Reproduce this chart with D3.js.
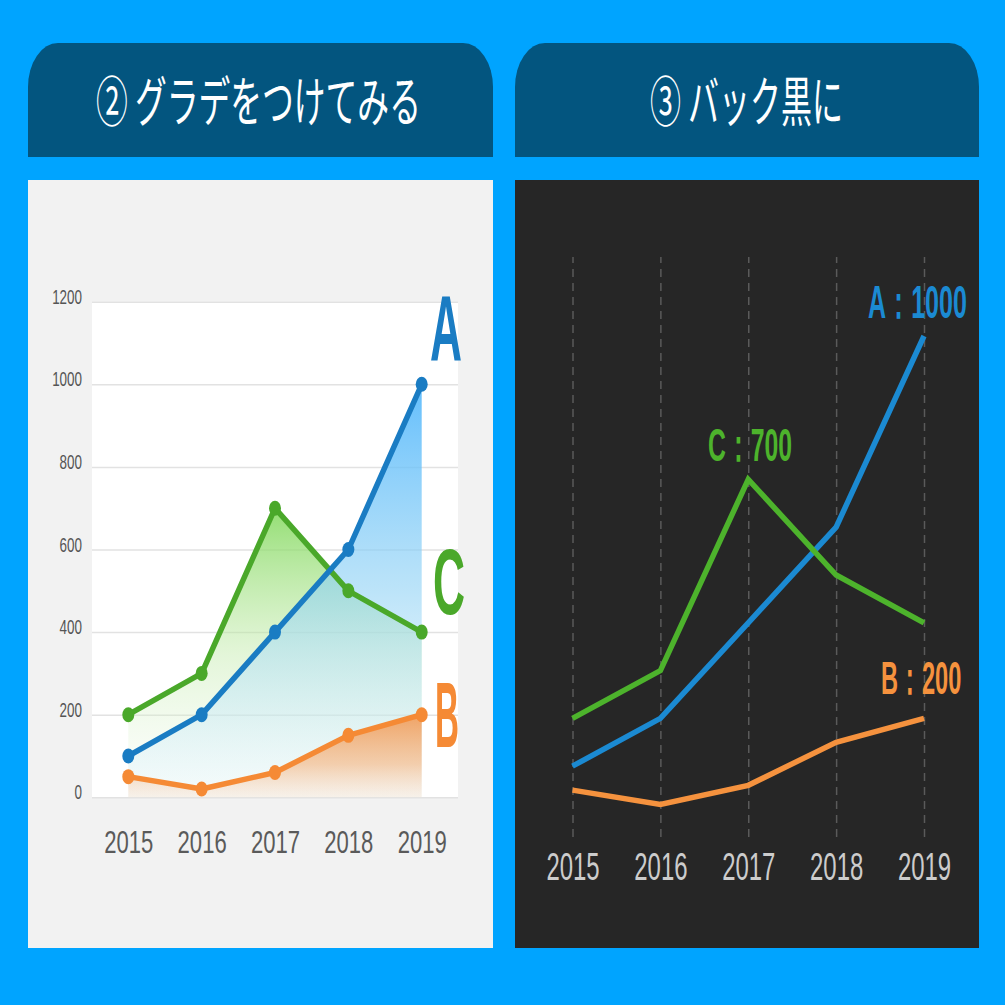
<!DOCTYPE html>
<html>
<head>
<meta charset="utf-8">
<script src="https://cdn.jsdelivr.net/npm/d3@7"></script>
<style>
  html, body { margin: 0; padding: 0; background: #00a4ff; }
  svg { display: block; }
</style>
</head>
<body>
<svg id="chart" width="1005" height="1005"></svg>
<script>
// ---------- data ----------
const years = ["2015", "2016", "2017", "2018", "2019"];
const seriesA = [100, 200, 400, 600, 1000];
const seriesB = [50, 20, 60, 150, 200];
const seriesC = [200, 300, 700, 500, 400];
const yTicks = [0, 200, 400, 600, 800, 1000, 1200];
const seriesNames = ["A", "B", "C"];
const titles = ["② グラデをつけてみる", "③ バック黒に"];

// ---------- setup ----------
const svg = d3.select("#chart");
const defs = svg.append("defs");
const LAT = "'Liberation Sans', Arial, sans-serif";
const CJK = "'Noto Sans CJK JP', 'Noto Sans', sans-serif";

svg.append("rect").attr("width", 1005).attr("height", 1005).attr("fill", "#00a4ff");

function tabPath(x0, x1, y0, y1, rx, ry) {
  return `M${x0},${y1} L${x0},${y0 + ry} A${rx},${ry} 0 0 1 ${x0 + rx},${y0} L${x1 - rx},${y0} A${rx},${ry} 0 0 1 ${x1},${y0 + ry} L${x1},${y1} Z`;
}

// fit text horizontally between x0 and x1 at baseline y
function fitText(g, str, x0, x1, y, size, weight, family, fill) {
  const t = g.append("text")
    .attr("font-size", size).attr("font-weight", weight)
    .attr("font-family", family).attr("fill", fill)
    .attr("text-anchor", "start")
    .text(str);
  const w = t.node().getComputedTextLength();
  const s = (x1 - x0) / w;
  t.attr("transform", `translate(${x0},${y}) scale(${s},1)`);
  return t;
}

// tabs & panels
const panels = [
  { x0: 28, x1: 493, bg: "#f2f2f2" },
  { x0: 515, x1: 979, bg: "#262626" }
];
panels.forEach(p => {
  svg.append("path").attr("d", tabPath(p.x0, p.x1, 43, 157, 30, 44)).attr("fill", "#03557f");
  svg.append("rect").attr("x", p.x0).attr("y", 180).attr("width", p.x1 - p.x0).attr("height", 768).attr("fill", p.bg);
});
fitText(svg, titles[0], 96, 421, 122, 54, 400, CJK, "#ffffff");
fitText(svg, titles[1], 650, 843, 122, 54, 400, CJK, "#ffffff");

// ================= LEFT CHART =================
const L = svg.append("g");
const xL = d3.scalePoint().domain(years).range([128.3, 421.7]);
const yL = d3.scaleLinear().domain([0, 1200]).range([797.3, 301.7]);

L.append("rect").attr("x", 92).attr("y", yL(1200)).attr("width", 458 - 92).attr("height", yL(0) - yL(1200)).attr("fill", "#ffffff");

const yAxisL = L.append("g").attr("transform", "translate(92,0)")
  .call(d3.axisLeft(yL).tickValues(yTicks).tickSize(-(458 - 92)).tickFormat(d3.format("d")));
yAxisL.select(".domain").remove();
yAxisL.selectAll(".tick line").attr("stroke", "#e2e2e2").attr("stroke-width", 1.5);
yAxisL.selectAll(".tick text")
  .attr("font-family", LAT).attr("font-size", 21).attr("fill", "#555")
  .attr("x", -10 / 0.64).attr("dy", 1.5).attr("transform", "scale(0.64,1)");

const xAxisL = L.append("g").attr("transform", `translate(0,${yL(0)})`)
  .call(d3.axisBottom(xL).tickSize(0));
xAxisL.select(".domain").remove();
xAxisL.selectAll(".tick text")
  .attr("font-family", LAT).attr("font-size", 32).attr("fill", "#5a5a5a")
  .attr("y", 853 - yL(0)).attr("dy", 0).attr("transform", "scale(0.69,1)");

function grad(id, y1, y2, stops) {
  const gr = defs.append("linearGradient").attr("id", id)
    .attr("gradientUnits", "userSpaceOnUse")
    .attr("x1", 0).attr("x2", 0).attr("y1", y1).attr("y2", y2);
  stops.forEach(s => gr.append("stop").attr("offset", s[0]).attr("stop-color", s[1]).attr("stop-opacity", s[2]));
}
grad("gC", yL(700), yL(0), [[0, "#80d85a", 0.85], [0.5, "#c0eaa8", 0.45], [1, "#eef9ea", 0.15]]);
grad("gA", yL(1000), yL(0), [[0, "#52b7fc", 0.9], [0.5, "#93d3f5", 0.62], [1, "#e3f4fb", 0.3]]);
grad("gB", yL(200), yL(0), [[0, "#f29a55", 0.9], [0.6, "#f6b784", 0.65], [1, "#fbd9bf", 0.3]]);

const areaL = d3.area().x((d, i) => xL(years[i])).y0(yL(0)).y1(d => yL(d));
const lineL = d3.line().x((d, i) => xL(years[i])).y(d => yL(d));

L.append("path").datum(seriesC).attr("d", areaL).attr("fill", "url(#gC)");
L.append("path").datum(seriesA).attr("d", areaL).attr("fill", "url(#gA)");
L.append("path").datum(seriesB).attr("d", areaL).attr("fill", "url(#gB)");

const leftSeries = [
  { data: seriesC, color: "#4aa82a" },
  { data: seriesA, color: "#1a7cc3" },
  { data: seriesB, color: "#f58a35" }
];
leftSeries.forEach(s => {
  L.append("path").datum(s.data).attr("d", lineL).attr("fill", "none")
    .attr("stroke", s.color).attr("stroke-width", 5.5).attr("stroke-linejoin", "round");
  L.selectAll(null).data(s.data).enter().append("ellipse")
    .attr("cx", (d, i) => xL(years[i])).attr("cy", d => yL(d))
    .attr("rx", 6).attr("ry", 7.5).attr("fill", s.color);
});

fitText(L, seriesNames[0], 430, 462, 360, 93, 700, LAT, "#1a7cc3");
fitText(L, seriesNames[2], 433, 465, 614, 93, 700, LAT, "#4aa82a");
fitText(L, seriesNames[1], 435, 459, 747, 93, 700, LAT, "#f58a35");

// ================= RIGHT CHART =================
const R = svg.append("g");
const xR = d3.scalePoint().domain(years).range([572.5, 924]);
const yR = d3.scaleLinear().domain([0, 1000]).range([814, 336]);

const xAxisR = R.append("g").attr("transform", "translate(0,837)")
  .call(d3.axisBottom(xR).tickSize(-(837 - 257)));
xAxisR.select(".domain").remove();
xAxisR.selectAll(".tick line").attr("stroke", "#5a5a5a").attr("stroke-width", 1.5).attr("stroke-dasharray", "8,6");
xAxisR.selectAll(".tick text")
  .attr("font-family", LAT).attr("font-size", 38).attr("fill", "#cccccc")
  .attr("y", 880 - 837).attr("dy", 0).attr("transform", "scale(0.63,1)");

const lineR = d3.line().x((d, i) => xR(years[i])).y(d => yR(d));
const rightSeries = [
  { data: seriesA, color: "#1b8ad2" },
  { data: seriesC, color: "#4db32c" },
  { data: seriesB, color: "#f5923e" }
];
rightSeries.forEach(s => {
  R.append("path").datum(s.data).attr("d", lineR).attr("fill", "none")
    .attr("stroke", s.color).attr("stroke-width", 5.5).attr("stroke-linejoin", "miter");
});

fitText(R, `${seriesNames[0]}：${d3.max(seriesA)}`, 868, 967, 318, 46, 700, LAT, "#1b8ad2");
fitText(R, `${seriesNames[2]}：${d3.max(seriesC)}`, 708, 792, 461, 46, 700, LAT, "#4db32c");
fitText(R, `${seriesNames[1]}：${d3.max(seriesB)}`, 881, 961, 694, 46, 700, LAT, "#f5923e");
</script>
</body>
</html>
